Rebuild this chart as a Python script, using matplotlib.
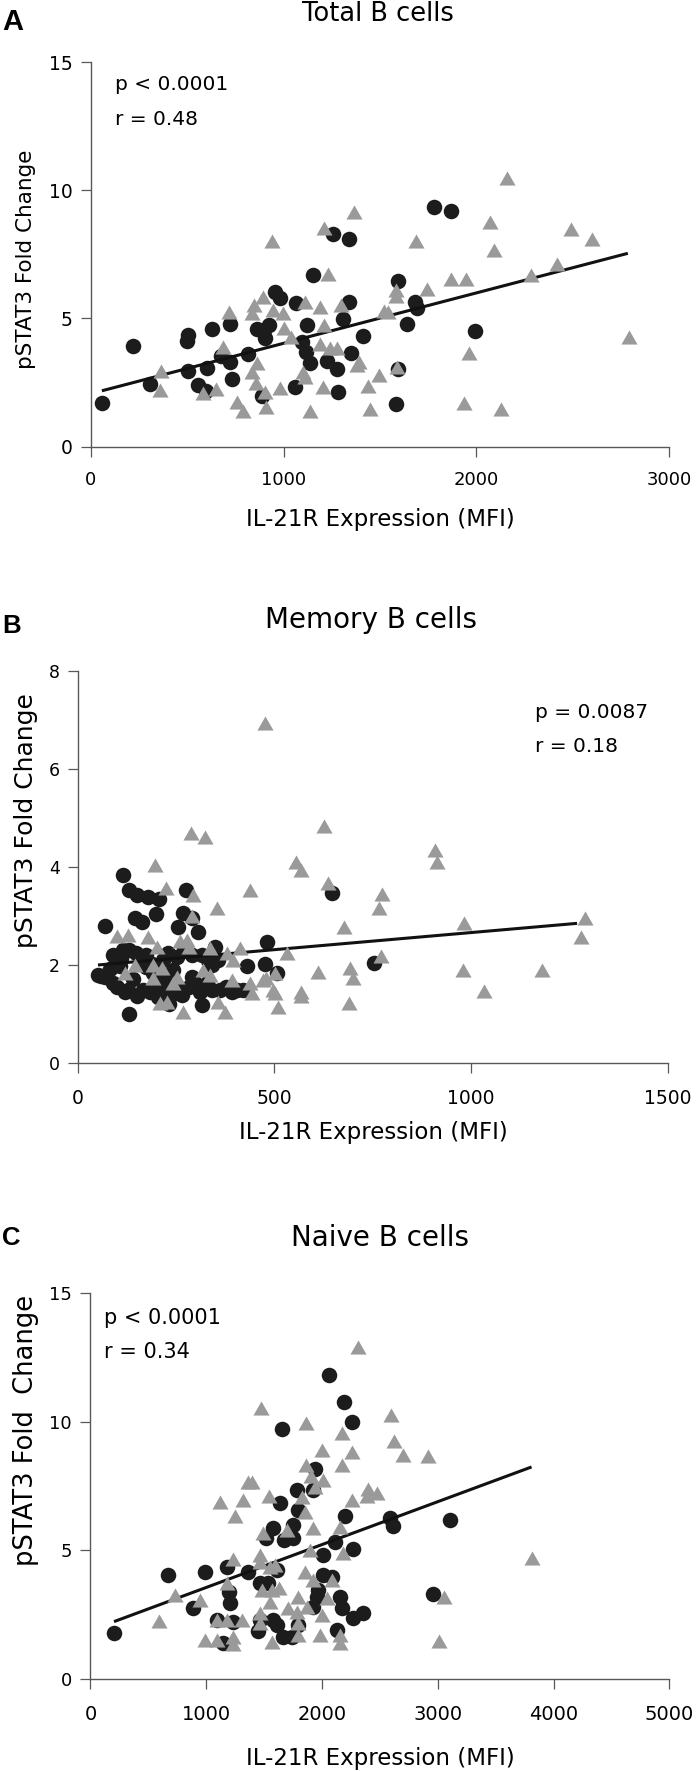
"""Three scatter panels: pSTAT3 fold change vs IL-21R expression (MFI)
for total, memory and naive B cells, with a linear fit line on each."""

import matplotlib
matplotlib.use("Agg")
import matplotlib.pyplot as plt

W, H = 696, 1771

# ---- panel A, total B cells
a_circ_x = [60, 219, 306, 497, 506, 506, 557, 598, 605, 631, 677, 720, 720, 734, 817, 864, 886, 905, 923, 900,
            955, 983, 1057, 1066, 1093, 1116, 1121, 1139, 1151, 1225, 1255, 1278, 1282, 1308, 1338, 1338, 1351,
            1411, 1584, 1593, 1595, 1641, 1681, 1692, 1779, 1869, 1991]
a_circ_y = [1.72, 3.94, 2.44, 4.13, 4.35, 2.95, 2.40, 2.17, 3.05, 4.58, 3.55, 3.31, 4.78, 2.63, 3.60, 4.58, 1.98,
            4.22, 4.74, 4.55, 6.04, 5.81, 2.31, 5.59, 4.09, 3.70, 4.74, 3.28, 6.69, 3.34, 8.28, 3.02, 2.12, 4.97,
            5.65, 8.09, 3.67, 4.32, 1.65, 3.02, 6.47, 4.78, 5.65, 5.39, 9.36, 9.20, 4.52]
a_tri_x = [364, 361, 583, 649, 686, 718, 760, 792, 836, 845, 836, 863, 859, 893, 910, 903, 941, 944, 983, 1001,
           997, 1036, 1100, 1112, 1112, 1135, 1190, 1208, 1190, 1204, 1208, 1231, 1243, 1278, 1296, 1363, 1381,
           1393, 1439, 1450, 1496, 1519, 1542, 1588, 1584, 1581, 1687, 1743, 1867, 1934, 1945, 1961, 2072, 2090,
           2129, 2157, 2284, 2417, 2491, 2601, 2792]
a_tri_y = [2.95, 2.21, 2.08, 2.24, 3.90, 5.26, 1.75, 1.40, 2.92, 5.52, 5.20, 3.25, 2.47, 5.85, 1.53, 2.14, 8.02,
           5.33, 2.30, 4.61, 5.20, 4.29, 2.92, 2.73, 5.65, 1.39, 5.46, 4.74, 4.00, 2.31, 8.54, 6.73, 3.83, 3.86,
           5.52, 9.14, 3.18, 3.31, 2.38, 1.46, 2.79, 5.29, 5.26, 3.12, 6.11, 5.88, 8.02, 6.14, 6.54, 1.69, 6.53,
           3.64, 8.77, 7.67, 1.46, 10.46, 6.69, 7.11, 8.48, 8.09, 4.29]
a_fit_x = [58, 2785]
a_fit_y = [2.18, 7.54]
a_xticks = [0, 1000, 2000, 3000]
a_yticks = [0, 5, 10, 15]

# ---- panel B, memory B cells
b_circ_x = [116, 132, 150, 180, 208, 276, 269, 199, 146, 163, 70, 256, 307, 349, 481, 91, 116, 163, 218, 252,
            315, 341, 430, 476, 506, 53, 91, 129, 167, 201, 265, 298, 328, 362, 404, 315, 233, 132, 108, 193,
            235, 70, 646, 753,
            60, 82, 100, 120, 140, 152, 185, 205, 215, 240, 258, 282, 292, 312, 342, 378, 392, 420,
            110, 130, 148, 175, 190, 230, 270, 292, 332, 356, 242, 212, 290, 175]
b_circ_y = [3.84, 3.54, 3.43, 3.39, 3.34, 3.54, 3.06, 3.04, 2.95, 2.88, 2.80, 2.77, 2.68, 2.37, 2.46, 2.20, 2.31,
            2.10, 2.10, 2.17, 2.20, 2.00, 1.97, 2.03, 1.83, 1.80, 1.63, 1.49, 1.49, 1.56, 1.39, 1.63, 1.63, 1.49,
            1.49, 1.18, 1.20, 1.01, 1.97, 1.83, 1.69, 1.76, 3.46, 2.05,
            1.78, 1.92, 1.55, 1.45, 1.72, 1.36, 1.45, 1.35, 1.56, 1.40, 1.50, 1.56, 1.76, 1.45, 1.50, 1.56, 1.45,
            1.50, 2.15, 2.30, 2.25, 2.20, 2.02, 2.25, 2.35, 2.20, 2.10, 2.10, 1.90, 1.75, 2.95, 1.95]
b_tri_x = [476, 289, 323, 626, 555, 569, 637, 437, 354, 676, 766, 774, 907, 913, 772, 533, 612, 691, 701, 689,
           569, 567, 509, 981, 978, 1032, 1181, 1289, 1278, 501, 502, 479,
           197, 224, 294, 290, 100, 129, 180, 201, 260, 282, 277, 337, 379, 413, 396, 121, 146, 193, 193, 214,
           243, 252, 320, 337, 392, 438, 472, 442, 497, 210, 227, 269, 358, 375]
b_tri_y = [6.94, 4.70, 4.62, 4.84, 4.11, 3.94, 3.67, 3.53, 3.16, 2.78, 3.16, 3.45, 4.35, 4.11, 2.19, 2.25, 1.85,
           1.94, 1.73, 1.22, 1.45, 1.37, 1.15, 2.85, 1.89, 1.46, 1.90, 2.95, 2.58, 1.83, 1.43, 1.73,
           4.04, 3.57, 3.43, 2.99, 2.59, 2.61, 2.58, 2.37, 2.48, 2.37, 2.51, 2.34, 2.24, 2.34, 2.10, 1.83, 2.00,
           2.00, 1.73, 1.93, 1.63, 1.76, 1.90, 1.80, 1.69, 1.63, 1.69, 1.42, 1.49, 1.22, 1.25, 1.05, 1.25, 1.05]
b_fit_x = [52, 1269]
b_fit_y = [2.00, 2.85]
b_xticks = [0, 500, 1000, 1500]
b_yticks = [0, 2, 4, 6, 8]

# ---- panel C, naive B cells
c_circ_x = [2190, 2262, 1652, 1939, 1781, 1925, 1637, 1796, 2199, 1580, 1516, 1669, 1752, 1752, 2112, 2270, 2011,
            989, 1176, 1364, 1608, 1464, 1537, 2011, 2083, 1968, 1199, 1205, 888, 2155, 2170, 1954, 1925, 2270,
            2357, 1234, 1090, 1464, 1580, 1608, 1450, 1666, 1738, 1796, 2127, 1148, 2587, 2616,
            200, 671, 2955, 3108, 2060]
c_circ_y = [10.78, 10.00, 9.70, 8.16, 7.35, 7.35, 6.83, 6.57, 6.34, 5.88, 5.47, 5.40, 5.47, 5.99, 5.34, 5.04, 4.82,
            4.17, 4.37, 4.17, 4.24, 3.72, 3.72, 4.04, 3.98, 3.46, 3.40, 2.94, 2.75, 3.20, 2.75, 3.20, 2.81, 2.36,
            2.58, 2.23, 2.29, 2.29, 2.29, 2.10, 1.88, 1.65, 1.65, 2.10, 1.91, 1.41, 6.25, 5.95,
            1.78, 4.06, 3.31, 6.19, 11.80]
c_tri_x = [1470, 1862, 2176, 2003, 2262, 2176, 1862, 1902, 2011, 1364, 1392, 1939, 1119, 1320, 1545, 1248, 1824,
           1853, 2262, 2400, 2472, 2386, 1695, 1493, 1919, 2155, 2184, 1234, 1464, 1464, 1594, 1550, 1896, 1853,
           1925, 2083, 1176, 1479, 1565, 1628, 1796, 1550, 2040, 1709, 1867, 1781, 1997, 946, 1176, 1090, 1306,
           1464, 1464, 1796, 1983, 1796, 2155, 989, 1090, 1234, 1565, 2155,
           2314, 595, 729, 2598, 2621, 2697, 2919, 3050, 3012, 3818, 1230]
c_tri_y = [10.52, 9.94, 9.55, 8.90, 8.84, 8.32, 8.32, 7.89, 7.73, 7.67, 7.67, 7.47, 6.89, 6.96, 7.11, 6.34, 7.09,
           6.50, 6.96, 7.37, 7.22, 7.11, 5.79, 5.66, 5.86, 5.92, 4.89, 4.65, 4.82, 4.56, 4.43, 4.37, 5.01, 4.17,
           3.85, 3.85, 3.72, 3.46, 3.46, 3.52, 3.20, 3.01, 3.13, 2.75, 2.81, 2.62, 2.49, 3.07, 2.29, 2.29, 2.29,
           2.55, 2.16, 2.16, 1.71, 1.71, 1.71, 1.52, 1.52, 1.65, 1.45, 1.39,
           12.91, 2.25, 3.27, 10.27, 9.25, 8.70, 8.65, 3.17, 1.49, 4.70, 1.35]
c_fit_x = [203, 3810]
c_fit_y = [2.23, 8.24]
c_xticks = [0, 1000, 2000, 3000, 4000, 5000]
c_yticks = [0, 5, 10, 15]

BLACK = "#1c1c1c"
GREY = "#9a9a9a"
AXCOL = "#585858"
TRI = [(-1, -0.875), (1, -0.875), (0, 0.875)]
CIRC_SIZE = 125
TRI_SIZE = 135


def fx(x):
    return x / W


def fy(y):
    return 1 - y / H


def draw_panel(fig, box, cx, cy, tx, ty, fit_x, fit_y, xticks, yticks,
               xsize, ysize, xpad, ypad):
    left, right, bottom, top = box
    ax = fig.add_axes([fx(left), fy(bottom), fx(right) - fx(left), fy(top) - fy(bottom)])
    ax.scatter(cx, cy, s=CIRC_SIZE, marker="o", c=BLACK, linewidths=0, zorder=2, clip_on=False)
    ax.plot(fit_x, fit_y, color="#111111", lw=2.2, solid_capstyle="butt", zorder=3)
    ax.scatter(tx, ty, s=TRI_SIZE, marker=TRI, c=GREY, linewidths=0, zorder=4, clip_on=False)
    ax.set_xlim(xticks[0], xticks[-1])
    ax.set_ylim(yticks[0], yticks[-1])
    ax.set_xticks(xticks)
    ax.set_yticks(yticks)
    for s in ["top", "right"]:
        ax.spines[s].set_visible(False)
    for s in ["left", "bottom"]:
        ax.spines[s].set_color(AXCOL)
        ax.spines[s].set_linewidth(1.0)
    ax.tick_params(direction="out", length=7, width=0.9, color=AXCOL)
    ax.tick_params(axis="x", labelsize=xsize, pad=xpad)
    ax.tick_params(axis="y", labelsize=ysize, pad=ypad)
    return ax


def main():
    plt.rcParams["font.family"] = ["DejaVu Sans"]
    fig = plt.figure(figsize=(W / 100, H / 100), dpi=100)

    draw_panel(fig, (90.7, 669.3, 446.7, 62), a_circ_x, a_circ_y, a_tri_x, a_tri_y,
               a_fit_x, a_fit_y, a_xticks, a_yticks, 13, 13.5, 10.5, 6)
    draw_panel(fig, (77.5, 668, 1063, 671), b_circ_x, b_circ_y, b_tri_x, b_tri_y,
               b_fit_x, b_fit_y, b_xticks, b_yticks, 13.5, 12.5, 11.5, 5.7)
    draw_panel(fig, (90.5, 669.3, 1679, 1293), c_circ_x, c_circ_y, c_tri_x, c_tri_y,
               c_fit_x, c_fit_y, c_xticks, c_yticks, 14, 13, 12, 6.5)

    # panel letters
    for lab, yb, sz in [("A", 30, 21), ("B", 633, 18.5), ("C", 1245, 18.5)]:
        fig.text(fx(2), fy(yb), lab, fontsize=sz, fontweight="bold",
                 family=["Liberation Sans", "DejaVu Sans"], ha="left", va="baseline")

    # titles
    fig.text(fx(378), fy(21), "Total B cells", fontsize=18.5, ha="center", va="baseline")
    fig.text(fx(371), fy(628), "Memory B cells", fontsize=20, ha="center", va="baseline")
    fig.text(fx(380), fy(1246), "Naive B cells", fontsize=20, ha="center", va="baseline")

    # y labels
    for lab, xb, yc, sz in [("pSTAT3 Fold Change", 32, 259, 15.5),
                            ("pSTAT3 Fold Change", 33, 821, 18),
                            ("pSTAT3 Fold  Change", 33, 1430, 18.5)]:
        fig.text(fx(xb), fy(yc), lab, fontsize=sz, rotation=90, rotation_mode="anchor",
                 ha="center", va="baseline")

    # x labels
    for xc, yb in [(380, 526), (373, 1139), (380, 1765)]:
        fig.text(fx(xc), fy(yb), "IL-21R Expression (MFI)", fontsize=16.5, ha="center", va="baseline")

    # stats
    fig.text(fx(115), fy(90), "p < 0.0001", fontsize=14.5, ha="left", va="baseline")
    fig.text(fx(115), fy(125), "r = 0.48", fontsize=14.5, ha="left", va="baseline")
    fig.text(fx(535), fy(718), "p = 0.0087", fontsize=14.5, ha="left", va="baseline")
    fig.text(fx(535), fy(752), "r = 0.18", fontsize=14.5, ha="left", va="baseline")
    fig.text(fx(104), fy(1324), "p < 0.0001", fontsize=15, ha="left", va="baseline")
    fig.text(fx(104), fy(1358), "r = 0.34", fontsize=15, ha="left", va="baseline")

    fig.savefig("out.png", dpi=100)


if __name__ == '__main__':
    main()
